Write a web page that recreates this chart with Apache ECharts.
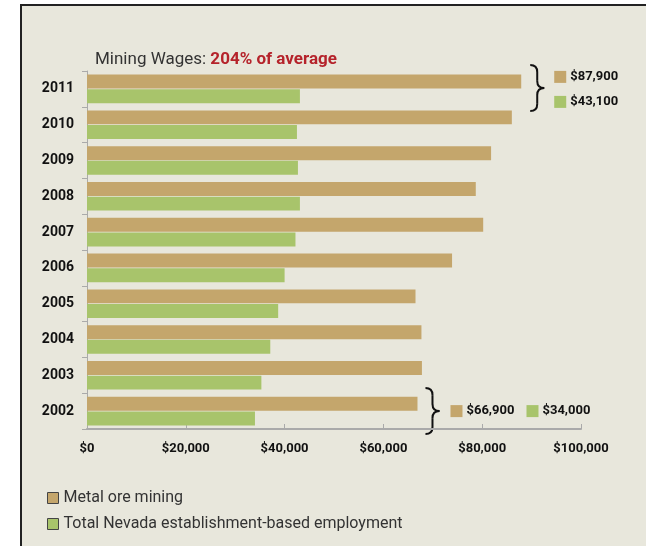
<!DOCTYPE html>
<html>
<head>
<meta charset="utf-8">
<script src="https://cdn.jsdelivr.net/npm/echarts@6/dist/echarts.min.js"></script>
<style>
html,body{margin:0;padding:0;background:#fff;}
#wrap{position:relative;width:646px;height:546px;overflow:hidden;}
#frame{position:absolute;left:20px;top:4px;width:640px;height:560px;background:#e8e7dc;border-left:2px solid #222;border-top:2px solid #222;}
#chart{position:absolute;left:0;top:0;width:646px;height:546px;}
</style>
</head>
<body>
<div id="wrap"><div id="frame"></div><div id="chart"></div></div>
<script>
var years = ['2002','2003','2004','2005','2006','2007','2008','2009','2010','2011'];
var metalOre = [66900, 67800, 67700, 66500, 73900, 80200, 78700, 81800, 86000, 87900];
var nevadaTotal = [34000, 35300, 37100, 38700, 40000, 42200, 43100, 42700, 42500, 43100];
var xTicks = [0, 20000, 40000, 60000, 80000, 100000];
var seriesNames = ['Metal ore mining', 'Total Nevada establishment-based employment'];
var colors = ['#c4a66c', '#a8c46b'];

var FONT = "Roboto, 'Liberation Sans', sans-serif";

function fmt(v){ return '$' + v.toLocaleString('en-US'); }

var chart = echarts.init(document.getElementById('chart'), null, {renderer:'canvas'});
var option = {
  backgroundColor: 'transparent',
  textStyle: {fontFamily: FONT},
  animation: false,
  title: {
    left: 90, top: 46,
    text: '{a|Mining Wages: }{b|204% of average}',
    textStyle: {
      rich: {
        a: {fontFamily: FONT, fontSize: 17, color: '#333', fontWeight: 'normal'},
        b: {fontFamily: FONT, fontSize: 17, color: '#b5232b', fontWeight: 'bold'}
      }
    }
  },
  legend: {
    orient: 'vertical', left: 42, top: 485,
    itemWidth: 11, itemHeight: 11, itemGap: 10,
    icon: 'rect',
    data: seriesNames,
    itemStyle: {borderColor: '#444', borderWidth: 1},
    textStyle: {fontFamily: FONT, fontSize: 16, color: '#333'}
  },
  grid: {left: 87, right: 65, top: 71, bottom: 117, containLabel: false},
  xAxis: {
    type: 'value', min: xTicks[0], max: xTicks[xTicks.length-1], interval: 20000,
    splitLine: {show: false},
    axisLine: {show: true, lineStyle: {color: '#aaa', width: 2}},
    axisTick: {show: true, inside: true, length: 5, lineStyle: {color: '#aaa', width: 1}},
    axisLabel: {formatter: function(v){ return fmt(v); }, fontFamily: FONT, fontSize: 13, fontWeight: 'bold', color: '#111', margin: 13}
  },
  yAxis: {
    type: 'category', data: years,
    axisLine: {show: true, lineStyle: {color: '#aaa', width: 1}},
    axisTick: {show: true, inside: false, length: 5, lineStyle: {color: '#aaa'}},
    axisLabel: {fontFamily: FONT, fontSize: 14, fontWeight: 'bold', color: '#111', margin: 13}
  },
  series: [
    {name: seriesNames[0], type: 'bar', data: metalOre, barCategoryGap: '20%', barGap: '5%',
     itemStyle: {color: colors[0]}},
    {name: seriesNames[1], type: 'bar', data: nevadaTotal, barCategoryGap: '20%', barGap: '5%',
     itemStyle: {color: colors[1]}}
  ]
};
chart.setOption(option);

var g = [];
function brace(x, y0, y1, w){
  var m = (y0 + y1) / 2, r = w / 2, xm = x + r;
  var st = {stroke: '#111', lineWidth: 2, fill: null};
  g.push({type: 'bezierCurve', shape: {x1: x, y1: y0, cpx1: xm, cpy1: y0, x2: xm, y2: y0 + r}, style: st});
  g.push({type: 'line', shape: {x1: xm, y1: y0 + r, x2: xm, y2: m - r}, style: st});
  g.push({type: 'bezierCurve', shape: {x1: xm, y1: m - r, cpx1: xm, cpy1: m, x2: x + w, y2: m}, style: st});
  g.push({type: 'bezierCurve', shape: {x1: x + w, y1: m, cpx1: xm, cpy1: m, x2: xm, y2: m + r}, style: st});
  g.push({type: 'line', shape: {x1: xm, y1: m + r, x2: xm, y2: y1 - r}, style: st});
  g.push({type: 'bezierCurve', shape: {x1: xm, y1: y1 - r, cpx1: xm, cpy1: y1, x2: x, y2: y1}, style: st});
}

var last = years.length - 1;
var yTop = chart.convertToPixel({yAxisIndex: 0}, years[last]);
var yBot = chart.convertToPixel({yAxisIndex: 0}, years[0]);
var xTopBar = chart.convertToPixel({xAxisIndex: 0}, metalOre[last]);
var xBotBar = chart.convertToPixel({xAxisIndex: 0}, metalOre[0]);

var bx1 = xTopBar + 9, bx2 = xBotBar + 8;
brace(bx1, yTop - 24, yTop + 22, 14);
brace(bx2, yBot - 23, yBot + 23, 14);

function labelItem(x, y, color, text){
  g.push({type: 'rect', shape: {x: x, y: y - 6, width: 12, height: 12}, style: {fill: color}});
  g.push({type: 'text', x: x + 16, y: y, style: {text: text, fill: '#111', font: 'bold 13px ' + FONT, verticalAlign: 'middle', textVerticalAlign: 'middle'}});
}
labelItem(bx1 + 24, yTop - 12, colors[0], fmt(metalOre[last]));
labelItem(bx1 + 24, yTop + 13, colors[1], fmt(nevadaTotal[last]));
labelItem(bx2 + 25, yBot, colors[0], fmt(metalOre[0]));
labelItem(bx2 + 101, yBot, colors[1], fmt(nevadaTotal[0]));

chart.setOption({graphic: g});
</script>
</body>
</html>
